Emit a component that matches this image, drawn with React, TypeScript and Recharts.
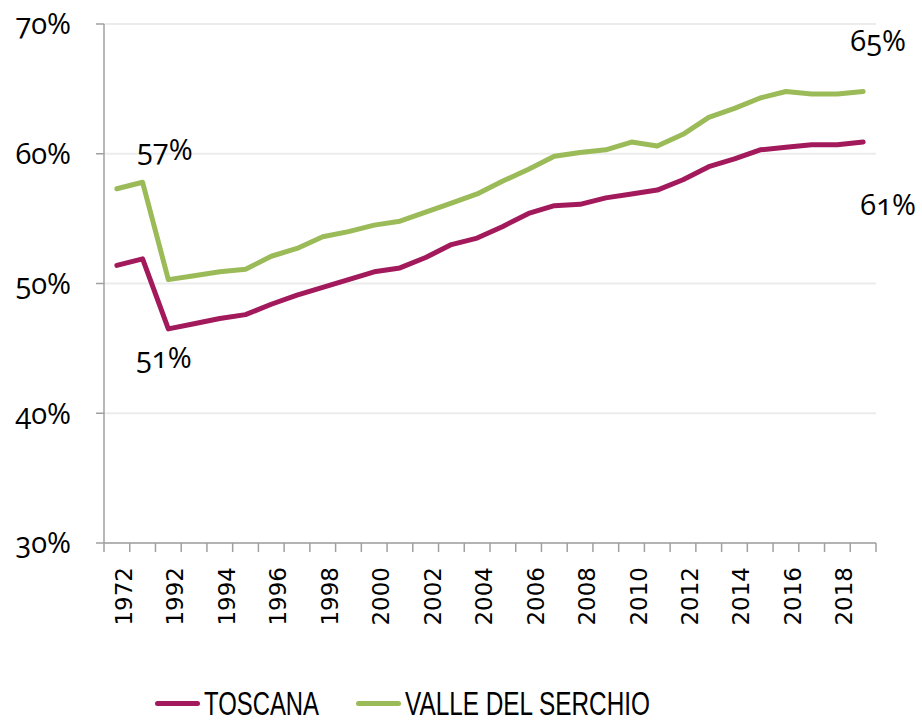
import React from 'react';
import { LineChart, Line, XAxis, YAxis, CartesianGrid, Legend } from 'recharts';

// categories and series (share of active population, %)
const YEARS = ['1972', '1982', '1992', '1993', '1994', '1995', '1996', '1997', '1998', '1999', '2000', '2001', '2002', '2003', '2004', '2005', '2006', '2007', '2008', '2009', '2010', '2011', '2012', '2013', '2014', '2015', '2016', '2017', '2018', '2019'];
const TOSCANA = [51.4, 51.9, 46.5, 46.9, 47.3, 47.6, 48.4, 49.1, 49.7, 50.3, 50.9, 51.2, 52.0, 53.0, 53.5, 54.4, 55.4, 56.0, 56.1, 56.6, 56.9, 57.2, 58.0, 59.0, 59.6, 60.3, 60.5, 60.7, 60.7, 60.9];
const VALLE = [57.3, 57.8, 50.3, 50.6, 50.9, 51.1, 52.1, 52.7, 53.6, 54.0, 54.5, 54.8, 55.5, 56.2, 56.9, 57.9, 58.8, 59.8, 60.1, 60.3, 60.9, 60.6, 61.5, 62.8, 63.5, 64.3, 64.8, 64.6, 64.6, 64.8];
const Y_TICKS = [30, 40, 50, 60, 70];
const SERIES = [
  { key: 'toscana', name: 'TOSCANA', color: '#A21A5C', textWidth: 115 },
  { key: 'valle', name: 'VALLE DEL SERCHIO', color: '#9BBB59', textWidth: 245 },
];

const NUM_FONT = '"Open Sans", Lato, sans-serif';

const data = YEARS.map((year, i) => ({ idx: i, year, toscana: TOSCANA[i], valle: VALLE[i] }));

const boundaryTicks = YEARS.map((_, i) => i - 0.5).concat([YEARS.length - 0.5]);
const labelTicks = YEARS.map((_, i) => i).filter(i => i % 2 === 0);

const YearTick = (props: any) => {
  const { x, y, payload } = props;
  const label = YEARS[payload.value];
  return (
    <text
      x={x + 15}
      y={y}
      transform={`rotate(-90, ${x + 15}, ${y})`}
      textAnchor="end"
      fontFamily='"DejaVu Sans", sans-serif'
      fontSize={23}
      fill="#000"
    >
      {label}
    </text>
  );
};

// labels for first and last value, offsets per series
const makeLabel = (first: { dx: number; dy: number }, last: { dx: number; dy: number }) => (props: any) => {
  const { x, y, index, value } = props;
  let off = null;
  if (index === 0) off = first;
  else if (index === YEARS.length - 1) off = last;
  if (!off) return null;
  return (
    <text
      x={x + off.dx}
      y={y + off.dy}
      textAnchor="middle"
      fontFamily={NUM_FONT}
      fontSize={29}
      style={{ fontVariantNumeric: 'oldstyle-nums' }}
      fill="#000"
    >
      {Math.round(value)}%
    </text>
  );
};

const renderLegend = () => (
  <div style={{ display: 'flex', alignItems: 'center', paddingLeft: 155, height: 40 }}>
    {SERIES.map((s, i) => (
      <div key={s.name} style={{ display: 'flex', alignItems: 'center', marginRight: i === 0 ? 37 : 0 }}>
        <div style={{ width: 45, height: 5, borderRadius: 3, background: s.color, marginRight: 4 }} />
        <svg width={s.textWidth} height={40} style={{ display: 'block', overflow: 'visible' }}>
          <text x={0} y={32} textLength={s.textWidth} lengthAdjust="spacingAndGlyphs" fontFamily='"Liberation Sans", Arial, sans-serif' fontSize={33} fill="#000">
            {s.name}
          </text>
        </svg>
      </div>
    ))}
  </div>
);

export default function App() {
  return (
    <div style={{ position: 'absolute', left: 0, top: 0, width: 922, height: 723, background: '#fff', overflow: 'hidden' }}>
      <LineChart width={922} height={723} data={data} margin={{ top: 24, right: 46, bottom: 0, left: 0 }}>
        <CartesianGrid vertical={false} stroke="#ECECEC" strokeWidth={2} xAxisId="a" />
        <XAxis
          xAxisId="a"
          dataKey="idx"
          type="number"
          domain={[-0.5, YEARS.length - 0.5]}
          ticks={boundaryTicks}
          tick={() => <g />}
          tickSize={9}
          height={10}
          stroke="#A0A0A0"
          strokeWidth={1.5}
          interval={0}
        />
        <XAxis
          xAxisId="b"
          dataKey="idx"
          type="number"
          domain={[-0.5, YEARS.length - 0.5]}
          ticks={labelTicks}
          tick={<YearTick />}
          tickLine={false}
          axisLine={false}
          tickSize={0}
          tickMargin={14}
          height={130}
          interval={0}
        />
        <YAxis
          domain={[30, 70]}
          ticks={Y_TICKS}
          width={104}
          tickSize={8}
          tickMargin={25}
          stroke="#A0A0A0"
          strokeWidth={1.5}
          tickFormatter={(v: number) => `${v}%`}
          tick={{ fill: '#000', fontSize: 29, fontFamily: NUM_FONT, style: { fontVariantNumeric: 'oldstyle-nums' } }}
        />
        <Legend verticalAlign="bottom" height={40} content={renderLegend} wrapperStyle={{ bottom: 0 }} />
        <Line
          xAxisId="a"
          dataKey="toscana"
          name="TOSCANA"
          stroke={SERIES[0].color}
          strokeWidth={5}
          strokeLinecap="round"
          strokeLinejoin="round"
          dot={false}
          isAnimationActive={false}
          label={makeLabel({ dx: 47, dy: 103 }, { dx: 25, dy: 73 })}
        />
        <Line
          xAxisId="a"
          dataKey="valle"
          name="VALLE DEL SERCHIO"
          stroke={SERIES[1].color}
          strokeWidth={5}
          strokeLinecap="round"
          strokeLinejoin="round"
          dot={false}
          isAnimationActive={false}
          label={makeLabel({ dx: 48, dy: -29 }, { dx: 15, dy: -40 })}
        />
      </LineChart>
    </div>
  );
}
